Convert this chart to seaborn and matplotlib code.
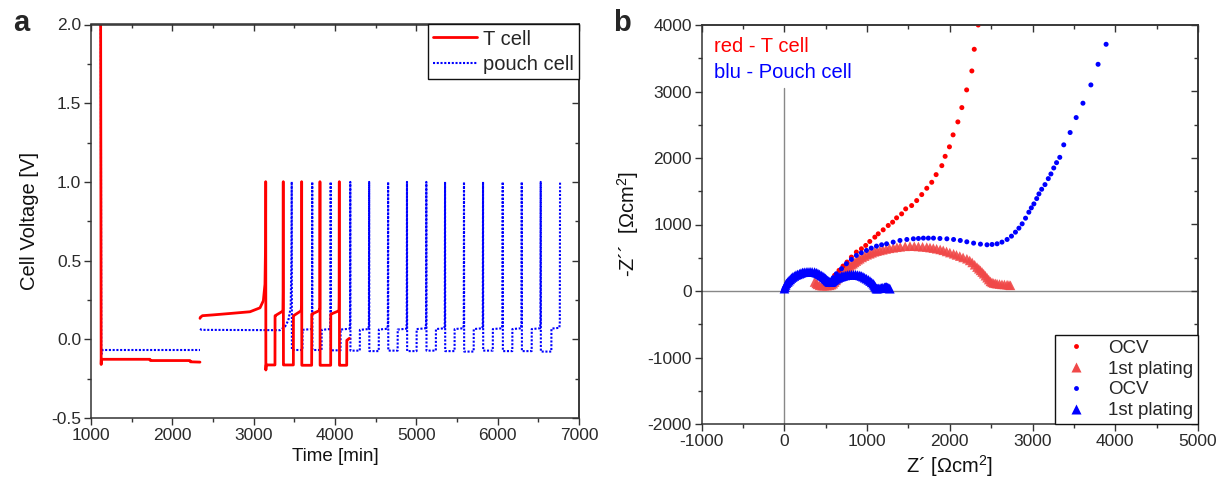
import numpy as np
import pandas as pd
import matplotlib
matplotlib.use("Agg")
import matplotlib.pyplot as plt
from matplotlib.ticker import MultipleLocator
from matplotlib.lines import Line2D
import seaborn as sns

# ---------------- data: panel a (cell voltage vs time) ----------------
# T cell (red) - first rest segment
tcell_seg1_t = [1118, 1125, 1127, 1135, 1725, 1730, 2217, 2222, 2340]
tcell_seg1_v = [2.20, -0.16, -0.13, -0.127, -0.127, -0.135, -0.135, -0.143, -0.145]
# T cell - second segment (slow rise before first spike)
tcell_seg2_t = [2340, 2345, 2370, 2500, 2709, 2955, 3078, 3119, 3139, 3146, 3148]
tcell_seg2_v = [0.133, 0.14, 0.15, 0.155, 0.164, 0.175, 0.20, 0.245, 0.35, 0.60, 1.0]
# T cell cycling: spike times, times of rise from low to high level, levels
tcell_spike_t = [3148, 3364, 3590, 3815, 4053]
tcell_rise_t = [3262, 3488, 3713, 3947, 4144]
tcell_low_v = [-0.163, -0.163, -0.165, -0.165, -0.165]
tcell_high_start_v = [0.150, 0.150, 0.160, 0.160, -0.006]
tcell_high_end_v = [0.178, 0.180, 0.182, 0.180, 0.006]
tcell_prespike_v = [0.30, 0.22, 0.19, 0.26]
tcell_end_t = 4176

# pouch cell (blue)
pouch_seg1_t = [1120, 1126, 1135, 1145, 2340]
pouch_seg1_v = [2.20, -0.10, -0.075, -0.068, -0.068]
pouch_seg2_t = [2340, 2360, 3324, 3385, 3426, 3455, 3464, 3468]
pouch_seg2_v = [0.066, 0.060, 0.058, 0.080, 0.120, 0.200, 0.50, 1.0]
pouch_spike_t = [3468, 3720, 3947, 4188, 4420, 4653, 4885, 5123, 5353,
                 5586, 5820, 6062, 6296, 6529, 6767]
pouch_rise_t = [3600, 3835, 4068, 4305, 4538, 4770, 5003, 5240, 5470,
                5705, 5940, 6180, 6418, 6660]
pouch_low_v = [-0.068, -0.068, -0.070, -0.072, -0.075, -0.072, -0.075, -0.072,
               -0.075, -0.078, -0.072, -0.075, -0.075, -0.078]
pouch_high_v = [0.060, 0.060, 0.062, 0.060, 0.062, 0.062, 0.065, 0.065,
                0.065, 0.065, 0.065, 0.065, 0.065, 0.068]

# ---------------- data: panel b (Nyquist) ----------------
red_ocv_x = [540, 547, 567, 607, 660, 709, 757, 810, 870, 931, 983, 1032, 1093,
             1134, 1194, 1255, 1308, 1356, 1417, 1466, 1538, 1599, 1660, 1721,
             1781, 1834, 1903, 1943, 1995, 2039, 2097, 2145, 2203, 2266, 2295, 2343]
red_ocv_y = [95, 110, 160, 235, 310, 375, 435, 510, 585, 635, 685, 745, 810,
             860, 920, 985, 1035, 1100, 1160, 1235, 1285, 1360, 1450, 1545,
             1635, 1750, 1885, 2025, 2168, 2348, 2543, 2758, 3024, 3309, 3635, 4000]

red_plat_x = [364, 385, 400, 425, 455, 480, 515, 547, 570, 590, 607, 625, 640,
              655, 668, 690, 710, 730, 749, 770, 790, 810, 830, 850, 870, 890,
              911, 940, 970, 1000, 1032, 1060, 1090, 1120, 1154, 1190, 1230,
              1270, 1316, 1360, 1400, 1460, 1518, 1570, 1620, 1670, 1721, 1760,
              1800, 1840, 1883, 1920, 1960, 2000, 2045, 2080, 2120, 2160, 2206,
              2240, 2270, 2300, 2328, 2350, 2370, 2390, 2409, 2430, 2450, 2470,
              2490, 2510, 2530, 2550, 2571, 2600, 2630, 2660, 2692, 2715, 2733]
red_plat_y = [135, 115, 100, 85, 80, 80, 80, 85, 95, 110, 135, 160, 190,
              215, 235, 265, 290, 315, 335, 355, 375, 395, 410, 430, 450, 470,
              485, 505, 525, 545, 560, 575, 590, 600, 610, 620, 632,
              642, 650, 658, 665, 672, 675, 674, 670, 665, 660, 653,
              645, 635, 625, 612, 595, 578, 560, 543, 525, 505, 485,
              460, 430, 395, 360, 335, 310, 285, 260, 230, 200, 172,
              145, 130, 120, 115, 110, 105, 100, 98, 95, 90, 85]

blue_ocv_x = [547, 590, 628, 690, 749, 810, 870, 930, 992, 1050, 1113, 1175, 1235,
              1315, 1397, 1480, 1559, 1620, 1680, 1740, 1802, 1880, 1964, 2045,
              2126, 2205, 2287, 2370, 2449, 2510, 2571, 2630, 2692, 2745, 2793,
              2835, 2874, 2915, 2955, 2985, 3016, 3050, 3077, 3110, 3150, 3190,
              3222, 3256, 3290, 3329, 3377, 3454, 3527, 3609, 3705, 3792, 3889]
blue_ocv_y = [135, 200, 260, 335, 410, 475, 535, 575, 610, 645, 675, 695, 710,
              735, 760, 775, 785, 790, 795, 795, 795, 790, 785, 775,
              760, 740, 720, 705, 695, 700, 710, 735, 775, 825, 885,
              945, 1010, 1095, 1185, 1250, 1310, 1390, 1460, 1530, 1600, 1690,
              1760, 1850, 1930, 2010, 2198, 2383, 2608, 2824, 3099, 3409, 3710]

blue_plat_x = [0, 8, 15, 25, 40, 55, 70, 85, 101, 120, 140, 160, 182, 200, 220,
               240, 263, 285, 310, 335, 364, 385, 405, 425, 445, 465, 480, 495,
               506, 520, 530, 540, 547, 557, 567, 580, 595, 610, 628, 650, 670,
               690, 709, 735, 760, 785, 810, 835, 860, 885, 911, 930, 950, 970,
               992, 1015, 1035, 1055, 1073, 1085, 1095, 1105, 1113, 1125, 1140,
               1157, 1174, 1190, 1210, 1222, 1235, 1245, 1255, 1265, 1275]
blue_plat_y = [35, 60, 90, 115, 135, 155, 175, 195, 210, 225, 240, 250, 260, 270, 280,
               283, 285, 288, 290, 288, 285, 275, 265, 250, 235, 222, 205, 190,
               175, 160, 150, 140, 135, 135, 135, 145, 160, 172, 185, 198, 210,
               218, 225, 233, 240, 243, 245, 245, 245, 240, 235, 226, 215, 200,
               185, 168, 150, 130, 110, 90, 70, 52, 35, 37, 40,
               42, 45, 50, 55, 58, 60, 52, 45, 40, 35]

# ---------------- build the step curves from the arrays ----------------
def tcell_cycles():
    segs = []
    for i in range(len(tcell_spike_t)):
        s = tcell_spike_t[i]
        r = tcell_rise_t[i]
        low_first = -0.195 if i == 0 else tcell_low_v[i]
        t = [s, s + 2, s + 6, r, r + 1, r + 3]
        v = [1.0, low_first, tcell_low_v[i], tcell_low_v[i], tcell_high_start_v[i],
             tcell_high_start_v[i]]
        if i + 1 < len(tcell_spike_t):
            nxt = tcell_spike_t[i + 1]
            t += [nxt - 10, nxt - 4, nxt - 2, nxt]
            v += [tcell_high_end_v[i], tcell_high_end_v[i] + 0.01, tcell_prespike_v[i], 1.0]
        else:
            t += [tcell_end_t]
            v += [tcell_high_end_v[i]]
        segs.append((t, v))
    return segs

def pouch_cycles():
    t, v = [], []
    for i in range(len(pouch_rise_t)):
        s = pouch_spike_t[i]
        r = pouch_rise_t[i]
        nxt = pouch_spike_t[i + 1]
        t += [s, s + 2, r, r + 1, nxt - 8, nxt - 3, nxt]
        v += [1.0, pouch_low_v[i], pouch_low_v[i], pouch_high_v[i], pouch_high_v[i] + 0.005,
              pouch_high_v[i] + 0.04, 1.0]
    return t, v

# ---------------- style ----------------
sns.set_theme(style="ticks")
plt.rcParams["font.family"] = ["Liberation Sans", "DejaVu Sans"]
plt.rcParams["mathtext.fontset"] = "custom"
plt.rcParams["mathtext.rm"] = "Liberation Sans"
plt.rcParams["mathtext.it"] = "Liberation Sans:italic"
plt.rcParams["mathtext.bf"] = "Liberation Sans:bold"
plt.rcParams["axes.unicode_minus"] = False
plt.rcParams["axes.edgecolor"] = "#333333"
plt.rcParams["axes.linewidth"] = 1.1
plt.rcParams["xtick.color"] = "#333333"
plt.rcParams["ytick.color"] = "#333333"
plt.rcParams["xtick.labelcolor"] = "#2a2a2a"
plt.rcParams["ytick.labelcolor"] = "#2a2a2a"

W, H = 1226, 488
fig = plt.figure(figsize=(W / 100, H / 100), dpi=100)
axA = fig.add_axes([91 / W, 1 - 418 / H, (579 - 91) / W, (418 - 24.5) / H])
axB = fig.add_axes([701.7 / W, 1 - 424 / H, (1198 - 701.7) / W, (424 - 25) / H])

RED = "#ff0000"
BLUE = "#0000ff"
DOT = (0, (1.0, 0.8))

def lp(ax, t, v, color, ls, lw, label=None):
    df = pd.DataFrame({"t": t, "v": v})
    sns.lineplot(data=df, x="t", y="v", ax=ax, sort=False, estimator=None,
                 color=color, linestyle=ls, linewidth=lw, label=label, legend=False)

# panel a: pouch (blue dotted) drawn then T cell on top
lp(axA, pouch_seg1_t, pouch_seg1_v, BLUE, DOT, 1.5)
lp(axA, pouch_seg2_t, pouch_seg2_v, BLUE, DOT, 1.5)
pt, pv = pouch_cycles()
lp(axA, pt, pv, BLUE, DOT, 1.5)
lp(axA, tcell_seg1_t, tcell_seg1_v, RED, "-", 2.0)
lp(axA, tcell_seg2_t, tcell_seg2_v, RED, "-", 2.0)
for t, v in tcell_cycles():
    lp(axA, t, v, RED, "-", 2.0)

axA.set_xlim(1000, 7000)
axA.set_ylim(-0.5, 2.0)
axA.xaxis.set_major_locator(MultipleLocator(1000))
axA.xaxis.set_minor_locator(MultipleLocator(500))
axA.yaxis.set_major_locator(MultipleLocator(0.5))
axA.yaxis.set_minor_locator(MultipleLocator(0.25))
axA.set_xlabel("Time [min]", fontsize=13.5, labelpad=4, color="#111111")
axA.set_ylabel("Cell Voltage [V]", fontsize=14.5, labelpad=9, color="#111111")

handlesA = [Line2D([], [], color=RED, lw=2.0, ls="-"),
            Line2D([], [], color=BLUE, lw=1.5, ls=DOT)]
legA = axA.legend(handlesA, ["T cell", "pouch cell"], loc="upper right",
                  borderaxespad=0, fontsize=14.5, frameon=True, fancybox=False,
                  framealpha=1, edgecolor="#111111", handlelength=2.2,
                  handletextpad=0.3, labelspacing=0.3, borderpad=0.25)
legA.get_frame().set_linewidth(1.0)

# panel b
axB.axhline(0, color="#888888", lw=1.0, zorder=0)
axB.axvline(0, ymin=0, ymax=(3050 + 2000) / 6000, color="#888888", lw=1.0, zorder=0)

def sp(ax, x, y, color, marker, size, alpha=1.0):
    df = pd.DataFrame({"x": x, "y": y})
    sns.scatterplot(data=df, x="x", y="y", ax=ax, color=color, marker=marker,
                    s=size, edgecolor="none", linewidth=0, alpha=alpha, legend=False)

sp(axB, red_plat_x, red_plat_y, "#f04848", "^", 48, 0.9)
sp(axB, red_ocv_x, red_ocv_y, RED, "o", 13)
sp(axB, blue_ocv_x, blue_ocv_y, BLUE, "o", 13)
sp(axB, blue_plat_x, blue_plat_y, BLUE, "^", 48)

axB.set_xlim(-1000, 5000)
axB.set_ylim(-2000, 4000)
axB.xaxis.set_major_locator(MultipleLocator(1000))
axB.xaxis.set_minor_locator(MultipleLocator(500))
axB.yaxis.set_major_locator(MultipleLocator(1000))
axB.yaxis.set_minor_locator(MultipleLocator(500))
axB.set_xlabel("Z\u00b4 [\u03a9cm$^2$]", fontsize=14.5, labelpad=3, color="#111111")
axB.set_ylabel("-Z\u00b4\u00b4  [\u03a9cm$^2$]", fontsize=14.5, labelpad=5, color="#111111")

axB.text(-850, 3670, "red - T cell", color=RED, fontsize=14.5, va="center", ha="left")
axB.text(-850, 3292, "blu - Pouch cell", color=BLUE, fontsize=14.5, va="center", ha="left")

handlesB = [Line2D([], [], ls="", marker="o", ms=3.5, color=RED, mec="none"),
            Line2D([], [], ls="", marker="^", ms=7, color="#f04848", mec="none"),
            Line2D([], [], ls="", marker="o", ms=3.5, color=BLUE, mec="none"),
            Line2D([], [], ls="", marker="^", ms=7, color=BLUE, mec="none")]
legB = axB.legend(handlesB, ["OCV", "1st plating", "OCV", "1st plating"],
                  loc="lower right", borderaxespad=0, fontsize=13.5, frameon=True,
                  fancybox=False, framealpha=1, edgecolor="#111111",
                  handlelength=1.8, handletextpad=0.8, labelspacing=0.2,
                  borderpad=0.25)
legB.get_frame().set_linewidth(1.0)

# ticks: outward on left/bottom, inward mirror ticks on top/right
for ax in (axA, axB):
    ax.tick_params(which="major", direction="out", length=5, width=1.0,
                   labelsize=12.5, pad=2)
    ax.tick_params(which="minor", direction="out", length=3, width=1.0)
    for sp_ in ax.spines.values():
        sp_.set_visible(True)
    top = ax.secondary_xaxis("top")
    top.xaxis.set_major_locator(ax.xaxis.get_major_locator())
    top.xaxis.set_minor_locator(ax.xaxis.get_minor_locator())
    top.tick_params(which="major", direction="in", length=5, width=1.0, labeltop=False)
    top.tick_params(which="minor", direction="in", length=3, width=1.0)
    right = ax.secondary_yaxis("right")
    right.yaxis.set_major_locator(ax.yaxis.get_major_locator())
    right.yaxis.set_minor_locator(ax.yaxis.get_minor_locator())
    right.tick_params(which="major", direction="in", length=5, width=1.0, labelright=False)
    right.tick_params(which="minor", direction="in", length=3, width=1.0)

fig.text(0.011, 0.952, "a", fontsize=21, fontweight="bold", va="center", ha="left")
fig.text(0.500, 0.952, "b", fontsize=21, fontweight="bold", va="center", ha="left")

fig.savefig("out.png", dpi=100)
